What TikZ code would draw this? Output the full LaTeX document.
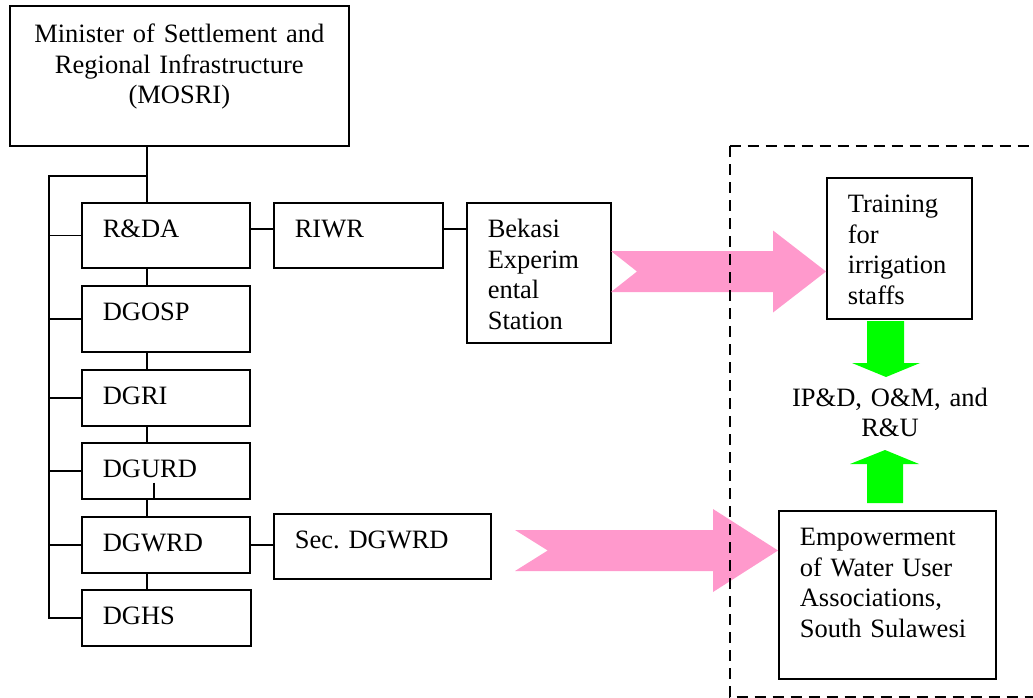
\documentclass[tikz,border=0pt]{standalone}
\usepackage{fontspec}
\setmainfont{Liberation Serif}
\usetikzlibrary{calc}
\definecolor{arrowpink}{HTML}{FF99CC}
\definecolor{arrowgreen}{HTML}{00FF00}

\begin{document}
\begin{tikzpicture}[x=1pt, y=-1pt,
    every node/.style={font=\fontsize{26.5}{30.5}\selectfont},
    unit/.style={draw, line width=1.6pt, anchor=north west, inner xsep=21pt, inner ysep=0pt, text height=35pt, align=left},
    link/.style={line width=1.6pt},
    frame/.style={line width=2pt, dash pattern=on 11pt off 7pt},
    pinkflow/.style={fill=arrowpink},
    greenflow/.style={fill=arrowgreen}]
  \useasboundingbox (0,0) rectangle (1033,698);

  % ministry
  \node[unit, align=center, inner xsep=10pt, text height=37pt, text width=319pt, text depth=103pt] (mosri) at (9,5) {Minister of Settlement and\\Regional Infrastructure\\(MOSRI)};

  % directorates
  \node[unit, text width=126pt, text depth=30pt] (rda) at (81,202) {R\&DA};
  \node[unit, text width=126pt, text depth=31pt] (dgosp) at (81,285) {DGOSP};
  \node[unit, text width=126pt, text depth=21pt] (dgri) at (81,369) {DGRI};
  \node[unit, text width=126pt, text depth=21pt] (dgurd) at (81,442) {DGURD};
  \node[unit, text width=126pt, text depth=21pt] (dgwrd) at (81,516) {DGWRD};
  \node[unit, text width=127pt, text depth=21pt] (dghs) at (81,589) {DGHS};

  % sub units
  \node[unit, text width=127pt, text depth=30pt] (riwr) at (273,202) {RIWR};
  \node[unit, text width=102pt, text depth=105pt] (bekasi) at (466,202) {Bekasi\\Experim\\ental\\Station};
  \node[unit, text width=175pt, text depth=30pt] (secdgwrd) at (273,513) {Sec.\ DGWRD};

  % activities
  \node[unit, text width=103pt, text depth=106pt] (training) at (826,177) {Training\\for\\irrigation\\staffs};
  \node[unit, text width=175pt, text depth=133pt] (empower) at (778,510) {Empowerment\\of Water User\\Associations,\\South Sulawesi};
  \node[text width=200pt, align=center, anchor=base, inner sep=0pt] (ipd) at (890,406) {IP\&D, O\&M, and\\R\&U};

  % tree lines
  \coordinate (trunk) at (147,176);
  \coordinate (bus) at (49,176);
  \coordinate (rlink) at (0,229);
  \draw[link] (trunk |- mosri.south) -- (trunk) -- (bus) -- (bus |- dghs.west) -- (dghs.west);
  \draw[link] (trunk) -- (trunk |- rda.north);
  \foreach \n in {rda,dgosp,dgri,dgurd,dgwrd}
    \draw[link] (bus |- \n.west) -- (\n.west);
  \foreach \a/\b in {rda/dgosp,dgosp/dgri,dgri/dgurd,dgurd/dgwrd,dgwrd/dghs}
    \draw[link] (trunk |- \a.south) -- (trunk |- \b.north);
  \draw[link] ($(dgurd.south west)+(73,-17)$) -- (dgurd.south west -| 154,0);
  \draw[link] (rda.east |- rlink) -- (riwr.west |- rlink);
  \draw[link] (riwr.east |- rlink) -- (bekasi.west |- rlink);
  \draw[link] (dgwrd.east) -- (dgwrd.east -| secdgwrd.west);

  % block arrows
  \coordinate (tip1) at (training.west |- 0,271.5);
  \coordinate (tip2) at (empower.west |- 0,550.5);
  \fill[pinkflow] (tip1) -- ++(-53,-41) -- ++(0,20.5) -- ++(-162,0) -- ++(26,20.5) -- ++(-26,20.5) -- ++(162,0) -- ++(0,20.5) -- cycle;
  \fill[pinkflow] (tip2) -- ++(-65,-41.5) -- ++(0,21) -- ++(-198,0) -- ++(32.7,20.5) -- ++(-32.7,20.5) -- ++(198,0) -- ++(0,21) -- cycle;
  \fill[greenflow] (886,377) -- ++(-34,-14) -- ++(15,0) -- ++(0,-42) -- ++(37,0) -- ++(0,42) -- ++(16,0) -- cycle;
  \fill[greenflow] (885,450) -- ++(-35,14) -- ++(17,0) -- ++(0,39) -- ++(36,0) -- ++(0,-39) -- ++(16,0) -- cycle;

  % project area
  \draw[frame] (729.5,146) -- (1033,146);
  \draw[frame] (729.5,146) -- (729.5,697) -- (1033,697);
\end{tikzpicture}
\end{document}
